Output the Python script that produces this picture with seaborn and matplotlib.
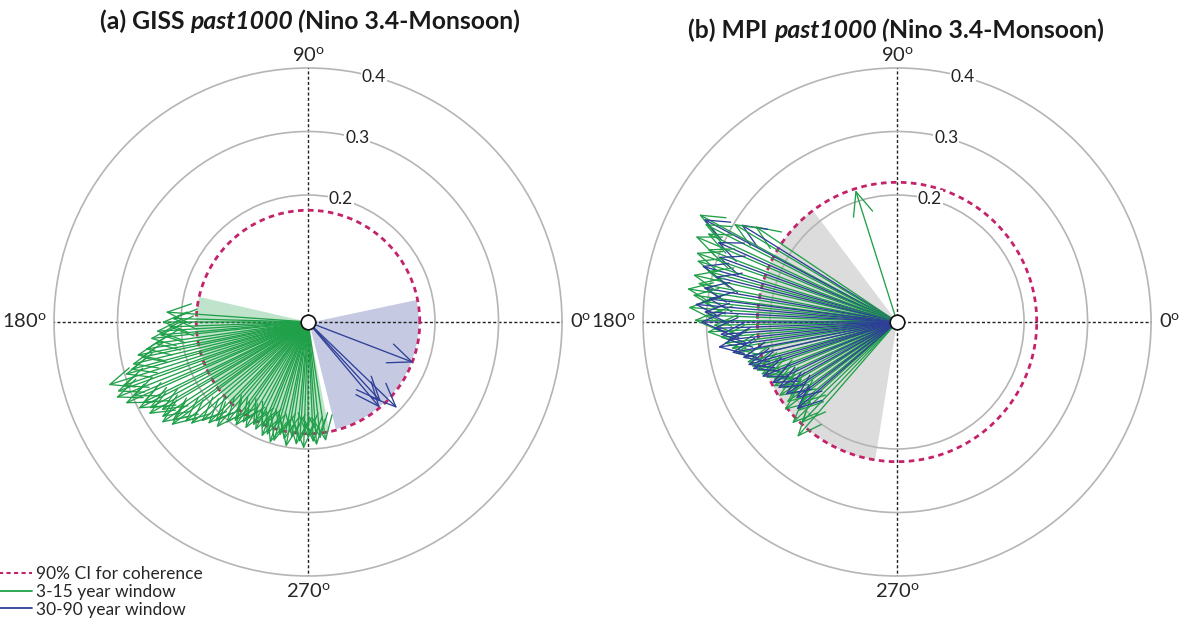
import numpy as np
import pandas as pd
import matplotlib
matplotlib.use("Agg")
import matplotlib.pyplot as plt
from matplotlib.lines import Line2D
import seaborn as sns

# ---------------------------------------------------------------- data
# Phase (degrees) and coherence magnitude of each window
giss_green_deg = [176, 178.5, 180, 182, 183.5, 185, 186, 188, 189.5, 191, 192, 193.5,
                  195, 196, 197.5, 199, 200, 201.5, 203, 204, 206, 207, 208.5, 210,
                  211, 213, 214.5, 216, 217, 219, 221, 223, 225.5, 227, 229, 231,
                  233.5, 235, 237, 239.5, 242, 244, 246.5, 248, 250, 252.5, 254, 256,
                  258.5, 260, 262, 264.5, 266, 268, 270, 272.5, 274, 276, 278.5]
giss_green_r = [0.225, 0.215, 0.23, 0.22, 0.24, 0.235, 0.25, 0.245, 0.26, 0.275, 0.27,
                0.285, 0.29, 0.30, 0.33, 0.31, 0.32, 0.325, 0.30, 0.315, 0.29, 0.30,
                0.285, 0.29, 0.27, 0.275, 0.28, 0.265, 0.27, 0.25, 0.245, 0.23, 0.225,
                0.215, 0.22, 0.205, 0.195, 0.2, 0.19, 0.195, 0.185, 0.19, 0.183, 0.195,
                0.19, 0.2, 0.196, 0.185, 0.19, 0.2, 0.185, 0.195, 0.19, 0.2, 0.183,
                0.19, 0.195, 0.185, 0.19]
giss_blue_deg = [339, 316, 310, 312.5]
giss_blue_r = [0.178, 0.195, 0.176, 0.17]
giss_ci = 0.176
giss_green_sector = (167, 281)
giss_blue_sector = (284, 372)

mpi_green_deg = [107.5, 146, 149, 151.5, 153, 155, 157, 159, 161, 163, 165, 167, 169,
                 171, 172.5, 174, 176, 178, 179.5, 181, 183, 185, 187, 189, 191, 193,
                 195, 197, 199, 201, 203, 205, 207.5, 210, 212, 214, 216, 218, 220,
                 222, 224, 226.5, 229]
mpi_green_r = [0.218, 0.27, 0.3, 0.355, 0.34, 0.33, 0.345, 0.32, 0.335, 0.33, 0.31,
               0.33, 0.32, 0.335, 0.325, 0.31, 0.33, 0.3, 0.32, 0.29, 0.3, 0.28, 0.275,
               0.265, 0.26, 0.25, 0.245, 0.24, 0.235, 0.23, 0.225, 0.215, 0.22, 0.21,
               0.22, 0.205, 0.215, 0.225, 0.2, 0.21, 0.23, 0.22, 0.24]
mpi_blue_deg = [148, 152, 156, 160, 164, 166, 170, 173, 175, 177, 180, 182, 184, 186,
                188, 190.5, 193, 196, 198, 202, 206, 209, 213, 217, 221]
mpi_blue_r = [0.29, 0.345, 0.31, 0.3, 0.32, 0.295, 0.31, 0.3, 0.32, 0.305, 0.31, 0.29,
              0.28, 0.27, 0.285, 0.265, 0.25, 0.245, 0.24, 0.23, 0.22, 0.215, 0.21,
              0.2, 0.21]
mpi_ci = 0.22
mpi_sector = (127, 261)

radial_ticks = [0.2, 0.3, 0.4]
angle_ticks = [0, 90, 180, 270]

# ---------------------------------------------------------------- style
sns.set_theme(style="white")
plt.rcParams["font.family"] = ["Lato", "DejaVu Sans"]
plt.rcParams["mathtext.fontset"] = "custom"
plt.rcParams["mathtext.rm"] = "Lato"

GREEN = "#21a04a"
BLUE = "#2e3f98"
CI_RED = "#c4226a"
GRID_GREY = "#b5b5b5"

fig = plt.figure(figsize=(11.84, 6.25), dpi=100)
ax_a = fig.add_axes([0.0456, 0.0784, 0.4291, 0.8128], projection="polar")
ax_b = fig.add_axes([0.5431, 0.0784, 0.4291, 0.8128], projection="polar")


def setup_axis(ax):
    ax.set_ylim(0, 0.4)
    ax.set_yticks(radial_ticks[:-1])
    ax.set_yticklabels([])
    ax.set_xticks(np.deg2rad(angle_ticks))
    ax.set_xticklabels([])
    ax.set_axisbelow(False)
    ax.xaxis.grid(True, color="#222222", linestyle=(0, (2.2, 1.6)), linewidth=1.0)
    ax.yaxis.grid(True, color=GRID_GREY, linestyle="-", linewidth=1.2)
    ax.spines["polar"].set_color(GRID_GREY)
    ax.spines["polar"].set_linewidth(1.2)
    ax.tick_params(pad=0, length=0)
    # radial labels sitting on the rings
    for r in radial_ticks:
        ax.text(np.deg2rad(75), r, f"{r:.1f}", fontsize=12.5, ha="center", va="center",
                color="#222222", zorder=6,
                bbox=dict(boxstyle="square,pad=0.05", fc="white", ec="none"))
    deg = r"$^{\mathrm{o}}$"
    ax.text(np.pi / 2, 0.42, "90" + deg, fontsize=14.5, ha="center", va="center",
            clip_on=False)
    ax.text(3 * np.pi / 2, 0.425, "270" + deg, fontsize=14.5, ha="center",
            va="center", clip_on=False)
    ax.text(np.pi, 0.412, "180" + deg, fontsize=14.5, ha="right", va="center",
            clip_on=False)
    ax.text(0, 0.412, "0" + deg, fontsize=14.5, ha="left", va="center", clip_on=False)


def sector(ax, span, radius, color, edge="none"):
    th = np.deg2rad(np.linspace(span[0], span[1], 120))
    ax.fill(np.concatenate([[th[0]], th, [th[-1]]]),
            np.concatenate([[0], np.full(th.size, radius), [0]]),
            color=color, ec=edge, lw=1.5, zorder=1)


def ci_ring(ax, radius):
    ring = pd.DataFrame({"theta": np.linspace(0, 2 * np.pi, 721),
                         "r": np.full(721, radius)})
    sns.lineplot(data=ring, x="theta", y="r", ax=ax, color=CI_RED, lw=2.0,
                 linestyle=(0, (2.0, 1.6)), estimator=None, sort=False, zorder=2.7)
    ax.set_xlabel("")
    ax.set_ylabel("")


def arrows(ax, degs, rs, color):
    for a, r in zip(degs, rs):
        ax.annotate("", xy=(np.deg2rad(a), r), xytext=(0, 0),
                    arrowprops=dict(arrowstyle="->,head_length=1.7,head_width=0.72",
                                    color=color, lw=0.95, shrinkA=0, shrinkB=0,
                                    mutation_scale=10),
                    zorder=3)


def centre(ax):
    ax.plot([0], [0], "o", ms=10.5, mfc="white", mec="#111111", mew=1.2, zorder=10,
            clip_on=False)


# ---- panel (a)
setup_axis(ax_a)
sector(ax_a, giss_green_sector, giss_ci, "#bfe4cb")
sector(ax_a, giss_blue_sector, giss_ci, "#c5cae2", edge="white")
ci_ring(ax_a, giss_ci)
arrows(ax_a, giss_green_deg, giss_green_r, GREEN)
arrows(ax_a, giss_blue_deg, giss_blue_r, BLUE)
centre(ax_a)

# ---- panel (b)
setup_axis(ax_b)
sector(ax_b, mpi_sector, mpi_ci, "#dcdcdc")
ci_ring(ax_b, mpi_ci)
# interleave the two windows so neither hides the other
ng, nb = len(mpi_green_deg), len(mpi_blue_deg)
gi = bi = 0
while gi < ng or bi < nb:
    if gi < ng:
        arrows(ax_b, mpi_green_deg[gi:gi + 2], mpi_green_r[gi:gi + 2], GREEN)
        gi += 2
    if bi < nb:
        arrows(ax_b, mpi_blue_deg[bi:bi + 1], mpi_blue_r[bi:bi + 1], BLUE)
        bi += 1
centre(ax_b)


# ---------------------------------------------------------------- titles
def mixed_title(xc_px, yc_px, parts, size=17.8):
    """parts: (text, fontstyle, add a space after it)"""
    renderer = fig.canvas.get_renderer()
    W, H = fig.bbox.width, fig.bbox.height

    def width(s, style):
        t = fig.text(0, 0, s, fontsize=size, fontweight="bold", fontstyle=style)
        w = t.get_window_extent(renderer).width
        t.remove()
        return w

    space = width("a a", "normal") - width("aa", "normal")
    widths = [width(s, st) for s, st, _ in parts]
    total = sum(widths) + space * sum(1 for *_, sp in parts if sp)
    x = xc_px - total / 2
    for (s, st, sp), w in zip(parts, widths):
        fig.text(x / W, 1 - yc_px / H, s, fontsize=size, fontweight="bold",
                 fontstyle=st, ha="left", va="center", color="#1a1a1a")
        x += w + (space if sp else 0)


mixed_title(310, 21, [("(a) GISS", "normal", True), ("past1000 (", "italic", False),
                      ("Nino 3.4-Monsoon)", "normal", False)])
mixed_title(896, 30, [("(b) MPI", "normal", True), ("past1000 (", "italic", False),
                      ("Nino 3.4-Monsoon)", "normal", False)])

# ---------------------------------------------------------------- legend
handles = [Line2D([], [], color=CI_RED, lw=1.5, linestyle=(0, (2.0, 1.6))),
           Line2D([], [], color=GREEN, lw=1.3),
           Line2D([], [], color=BLUE, lw=1.3)]
labels = ["90% CI for coherence", "3-15 year window", "30-90 year window"]
fig.legend(handles, labels, loc="lower left", bbox_to_anchor=(-0.004, 0.012),
           frameon=False, fontsize=12.5, handlelength=2.1, handletextpad=0.25,
           labelspacing=0.1, borderaxespad=0, borderpad=0)

fig.savefig("out.png", dpi=100)
